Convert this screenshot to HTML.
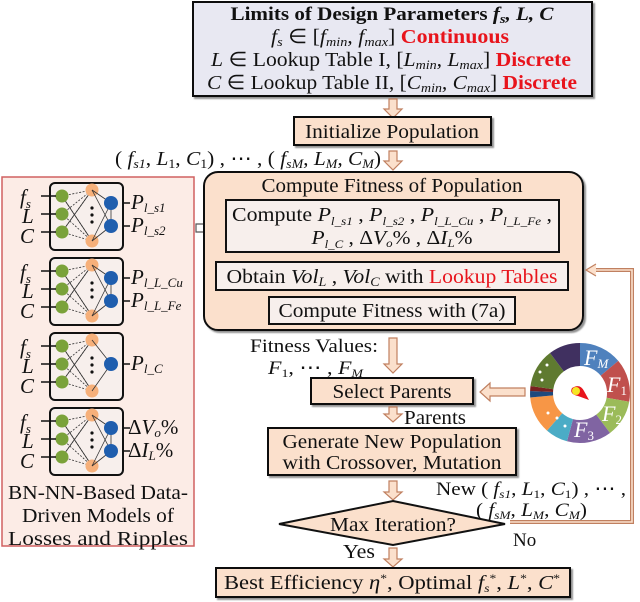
<!DOCTYPE html>
<html><head><meta charset="utf-8"><style>
html,body{margin:0;padding:0;background:#fff}
svg{display:block}
text{font-family:"Liberation Serif",serif;fill:#111}
.i{font-style:italic}
.r{fill:#e8141c;font-weight:bold}
.rr{fill:#e8141c}
</style></head><body>
<svg width="640" height="602" viewBox="0 0 640 602" xmlns="http://www.w3.org/2000/svg">
<defs>
<filter id="sh" x="-5%" y="-5%" width="115%" height="130%"><feDropShadow dx="2" dy="2" stdDeviation="0.8" flood-color="#777" flood-opacity="0.8"/></filter>
<g id="arr"><path d="M-4,0 h8 v10 h5 l-9,9 l-9,-9 h5 z" fill="#fbe0cc" stroke="#c08060" stroke-width="1.2"/></g>
<g id="nnbase">
<rect x="0" y="0" width="73" height="67" rx="5" fill="#f7efec" stroke="#111" stroke-width="2"/>
<g stroke="#333" stroke-width="0.8" stroke-dasharray="2,1.5">
<line x1="12" y1="13" x2="42" y2="7"/><line x1="12" y1="31" x2="42" y2="7"/><line x1="12" y1="49" x2="42" y2="7"/>
<line x1="12" y1="13" x2="42" y2="58"/><line x1="12" y1="31" x2="42" y2="58"/><line x1="12" y1="49" x2="42" y2="58"/>
</g>
<g stroke="#333" stroke-width="0.8">
<line x1="12" y1="13" x2="42" y2="58"/><line x1="12" y1="49" x2="42" y2="7"/>
</g>
<circle cx="12" cy="13" r="6.5" fill="#7aa23a"/><circle cx="12" cy="31" r="6.5" fill="#7aa23a"/><circle cx="12" cy="49" r="6.5" fill="#7aa23a"/>
<circle cx="42" cy="7" r="6.5" fill="#f6b07a"/><circle cx="42" cy="58" r="6.5" fill="#f6b07a"/>
<circle cx="42" cy="25" r="1.6" fill="#111"/><circle cx="42" cy="32" r="1.6" fill="#111"/><circle cx="42" cy="39" r="1.6" fill="#111"/>
<line x1="-9" y1="13" x2="6" y2="13" stroke="#111" stroke-width="1.5"/>
<line x1="-9" y1="31" x2="6" y2="31" stroke="#111" stroke-width="1.5"/>
<line x1="-9" y1="49" x2="6" y2="49" stroke="#111" stroke-width="1.5"/>
</g>
<g id="nn2">
<use href="#nnbase"/>
<g stroke="#333" stroke-width="0.8"><line x1="42" y1="7" x2="61" y2="20"/><line x1="42" y1="7" x2="61" y2="43"/><line x1="42" y1="58" x2="61" y2="20"/><line x1="42" y1="58" x2="61" y2="43"/><line x1="61" y1="20" x2="61" y2="43"/></g>
<circle cx="61" cy="20" r="7" fill="#1f5eae"/><circle cx="61" cy="43" r="7" fill="#1f5eae"/>
<line x1="73" y1="20" x2="80" y2="20" stroke="#111" stroke-width="1.5"/><line x1="73" y1="43" x2="80" y2="43" stroke="#111" stroke-width="1.5"/>
</g>
<g id="nn1">
<use href="#nnbase"/>
<g stroke="#333" stroke-width="0.8"><line x1="42" y1="7" x2="61" y2="31"/><line x1="42" y1="58" x2="61" y2="31"/></g>
<circle cx="61" cy="31" r="7" fill="#1f5eae"/>
<line x1="73" y1="31" x2="80" y2="31" stroke="#111" stroke-width="1.5"/>
</g>
</defs>

<!-- Top box -->
<rect x="193" y="2" width="399" height="94" fill="#e8e8f2" stroke="#111" stroke-width="2" filter="url(#sh)"/>
<text x="392" y="20" text-anchor="middle" font-size="19" font-weight="bold" textLength="323" lengthAdjust="spacingAndGlyphs">Limits of Design Parameters <tspan class="i">f<tspan font-size="13" dy="3">s</tspan><tspan dy="-3">, L, C</tspan></tspan></text>
<text x="390" y="43" text-anchor="middle" font-size="20" textLength="238" lengthAdjust="spacingAndGlyphs"><tspan class="i">f<tspan font-size="13" dy="3">s</tspan></tspan><tspan dy="-3"> ∈ [</tspan><tspan class="i">f<tspan font-size="13" dy="3">min</tspan><tspan dy="-3">, f</tspan><tspan font-size="13" dy="3">max</tspan></tspan><tspan dy="-3">] </tspan><tspan class="r">Continuous</tspan></text>
<text x="391" y="66" text-anchor="middle" font-size="20" textLength="360" lengthAdjust="spacingAndGlyphs"><tspan class="i">L</tspan> ∈ Lookup Table I, [<tspan class="i">L<tspan font-size="13" dy="3">min</tspan><tspan dy="-3">, L</tspan><tspan font-size="13" dy="3">max</tspan></tspan><tspan dy="-3">] </tspan><tspan class="r">Discrete</tspan></text>
<text x="392" y="89" text-anchor="middle" font-size="20" textLength="370" lengthAdjust="spacingAndGlyphs"><tspan class="i">C</tspan> ∈ Lookup Table II, [<tspan class="i">C<tspan font-size="13" dy="3">min</tspan><tspan dy="-3">, C</tspan><tspan font-size="13" dy="3">max</tspan></tspan><tspan dy="-3">] </tspan><tspan class="r">Discrete</tspan></text>

<use href="#arr" x="393" y="99"/>
<rect x="294" y="117" width="197" height="28" fill="#fbe0cc" stroke="#111" stroke-width="2" filter="url(#sh)"/>
<text x="392" y="138" text-anchor="middle" font-size="20" textLength="174" lengthAdjust="spacingAndGlyphs">Initialize Population</text>

<text x="115" y="165" font-size="20" textLength="266" lengthAdjust="spacingAndGlyphs">( <tspan class="i">f<tspan font-size="13" dy="3">s1</tspan></tspan><tspan dy="-3">, </tspan><tspan class="i">L</tspan><tspan font-size="13" dy="3">1</tspan><tspan dy="-3">, </tspan><tspan class="i">C</tspan><tspan font-size="13" dy="3">1</tspan><tspan dy="-3">) , ⋯ , ( </tspan><tspan class="i">f<tspan font-size="13" dy="3">sM</tspan><tspan dy="-3">, L</tspan><tspan font-size="13" dy="3">M</tspan><tspan dy="-3">, C</tspan><tspan font-size="13" dy="3">M</tspan></tspan><tspan dy="-3">)</tspan></text>
<use href="#arr" x="393" y="151"/>

<!-- Left panel -->
<rect x="2" y="177" width="192" height="369" fill="#fcece6" stroke="#d06060" stroke-width="1.5"/>
<use href="#nn2" x="50" y="183"/>
<use href="#nn2" x="50" y="258"/>
<use href="#nn1" x="50" y="333"/>
<use href="#nn2" x="50" y="408"/>
<g font-size="21">
<text x="20" y="204" class="i">f<tspan font-size="13" dy="4">s</tspan></text><text x="22" y="223" class="i">L</text><text x="20" y="243" class="i">C</text>
<text x="20" y="279" class="i">f<tspan font-size="13" dy="4">s</tspan></text><text x="22" y="298" class="i">L</text><text x="20" y="318" class="i">C</text>
<text x="20" y="354" class="i">f<tspan font-size="13" dy="4">s</tspan></text><text x="22" y="373" class="i">L</text><text x="20" y="393" class="i">C</text>
<text x="20" y="429" class="i">f<tspan font-size="13" dy="4">s</tspan></text><text x="22" y="448" class="i">L</text><text x="20" y="468" class="i">C</text>
</g>
<g font-size="21">
<text x="131" y="209" class="i">P<tspan font-size="13" dy="3">l_s1</tspan></text>
<text x="131" y="232" class="i">P<tspan font-size="13" dy="3">l_s2</tspan></text>
<text x="131" y="284" class="i">P<tspan font-size="13" dy="3">l_L_Cu</tspan></text>
<text x="131" y="307" class="i">P<tspan font-size="13" dy="3">l_L_Fe</tspan></text>
<text x="131" y="370" class="i">P<tspan font-size="13" dy="3">l_C</tspan></text>
<text x="128" y="434">Δ<tspan class="i">V</tspan><tspan font-size="13" dy="3" class="i">o</tspan><tspan dy="-3">%</tspan></text>
<text x="128" y="457">Δ<tspan class="i">I</tspan><tspan font-size="13" dy="3" class="i">L</tspan><tspan dy="-3">%</tspan></text>
</g>
<g font-size="20" text-anchor="middle">
<text x="98" y="499" textLength="180" lengthAdjust="spacingAndGlyphs">BN-NN-Based Data-</text>
<text x="98" y="522" textLength="152" lengthAdjust="spacingAndGlyphs">Driven Models of</text>
<text x="98" y="545" textLength="180" lengthAdjust="spacingAndGlyphs">Losses and Ripples</text>
</g>
<path d="M196,224 h8 v-5 l10,9 l-10,9 v-5 h-8 z" fill="#fff" stroke="#555" stroke-width="1.2"/>

<!-- Big box -->
<rect x="204" y="172" width="379" height="158" rx="14" fill="#fbe0cc" stroke="#111" stroke-width="2" filter="url(#sh)"/>
<text x="392" y="192" text-anchor="middle" font-size="20" textLength="261" lengthAdjust="spacingAndGlyphs">Compute Fitness of Population</text>
<rect x="226" y="200" width="333" height="52" fill="#f7efec" stroke="#111" stroke-width="2"/>
<text x="392" y="221" text-anchor="middle" font-size="20" textLength="320" lengthAdjust="spacingAndGlyphs">Compute <tspan class="i">P</tspan><tspan class="i" font-size="12" dy="4">l_s1</tspan><tspan dy="-4"> , </tspan><tspan class="i">P</tspan><tspan class="i" font-size="12" dy="4">l_s2</tspan><tspan dy="-4"> , </tspan><tspan class="i">P</tspan><tspan class="i" font-size="12" dy="4">l_L_Cu</tspan><tspan dy="-4"> , </tspan><tspan class="i">P</tspan><tspan class="i" font-size="12" dy="4">l_L_Fe</tspan><tspan dy="-4"> ,</tspan></text>
<text x="392" y="244" text-anchor="middle" font-size="20" textLength="161" lengthAdjust="spacingAndGlyphs"><tspan class="i">P</tspan><tspan class="i" font-size="12" dy="4">l_C</tspan><tspan dy="-4"> , Δ</tspan><tspan class="i">V</tspan><tspan class="i" font-size="12" dy="3">o</tspan><tspan dy="-3">% , Δ</tspan><tspan class="i">I</tspan><tspan class="i" font-size="12" dy="3">L</tspan><tspan dy="-3">%</tspan></text>
<rect x="216" y="262" width="352" height="28" fill="#f7efec" stroke="#111" stroke-width="2"/>
<text x="392" y="283" text-anchor="middle" font-size="20" textLength="331" lengthAdjust="spacingAndGlyphs">Obtain <tspan class="i">Vol</tspan><tspan class="i" font-size="13" dy="3">L</tspan><tspan dy="-3"> , </tspan><tspan class="i">Vol</tspan><tspan class="i" font-size="13" dy="3">C</tspan><tspan dy="-3"> with </tspan><tspan class="rr">Lookup Tables</tspan></text>
<rect x="269" y="297" width="246" height="27" fill="#f7efec" stroke="#111" stroke-width="2"/>
<text x="392" y="317" text-anchor="middle" font-size="20" textLength="227" lengthAdjust="spacingAndGlyphs">Compute Fitness with (7a)</text>

<!-- fitness -->
<text x="250" y="352" font-size="19" textLength="128" lengthAdjust="spacingAndGlyphs">Fitness Values:</text>
<text x="268" y="374" font-size="19" textLength="95" lengthAdjust="spacingAndGlyphs"><tspan class="i">F</tspan><tspan font-size="12" dy="3">1</tspan><tspan dy="-3">, ⋯ , </tspan><tspan class="i">F</tspan><tspan class="i" font-size="12" dy="3">M</tspan></text>
<path d="M389,338 h8 v26 h5 l-9,9 l-9,-9 h5 z" fill="#fbe0cc" stroke="#c08060" stroke-width="1.2"/>
<rect x="311" y="378" width="162" height="26" fill="#fbe0cc" stroke="#111" stroke-width="2" filter="url(#sh)"/>
<text x="392" y="398" text-anchor="middle" font-size="20" textLength="119" lengthAdjust="spacingAndGlyphs">Select Parents</text>
<path d="M525,388 h-35 v-5 l-10,9 l10,9 v-5 h35 z" fill="#fbe0cc" stroke="#c08060" stroke-width="1.2"/>

<!-- wheel -->
<g transform="translate(580,393)">
<path d="M0,-50 A50,50 0 0 1 38.3,-32.1 L20.7,-17.4 A27,27 0 0 0 0,-27 Z" fill="#4f81bd"/>
<path d="M38.3,-32.1 A50,50 0 0 1 49.2,8.7 L26.6,4.7 A27,27 0 0 0 20.7,-17.4 Z" fill="#c0504d"/>
<path d="M49.2,8.7 A50,50 0 0 1 30,40 L16.2,21.6 A27,27 0 0 0 26.6,4.7 Z" fill="#9bbb59"/>
<path d="M30,40 A50,50 0 0 1 -13,48.3 L-7,26.1 A27,27 0 0 0 16.2,21.6 Z" fill="#8064a2"/>
<path d="M-13,48.3 A50,50 0 0 1 -33,37.6 L-17.8,20.3 A27,27 0 0 0 -7,26.1 Z" fill="#4bacc6"/>
<path d="M-33,37.6 A50,50 0 0 1 -49.8,4.5 L-26.9,2.4 A27,27 0 0 0 -17.8,20.3 Z" fill="#f79646"/>
<path d="M-49.8,4.5 A50,50 0 0 1 -49.9,-2 L-26.95,-1 A27,27 0 0 0 -26.9,2.4 Z" fill="#1f497d"/>
<path d="M-49.9,-2 A50,50 0 0 1 -49.5,-7 L-26.7,-3.8 A27,27 0 0 0 -26.95,-1 Z" fill="#7a2020"/>
<path d="M-49.5,-7 A50,50 0 0 1 -30,-40 L-16.2,-21.6 A27,27 0 0 0 -26.7,-3.8 Z" fill="#5f7a30"/>
<path d="M-30,-40 A50,50 0 0 1 0,-50 L0,-27 A27,27 0 0 0 -16.2,-21.6 Z" fill="#403060"/>
<g fill="#fff"><circle cx="-40" cy="-21" r="1.5"/><circle cx="-33" cy="-28" r="1.5"/><circle cx="-38" cy="-13" r="1.5"/><circle cx="-32" cy="20" r="1.5"/><circle cx="-23" cy="25" r="1.5"/><circle cx="-15" cy="33" r="1.5"/></g>
<g font-family="Liberation Serif" font-style="italic" font-size="22">
<text x="4" y="-28" fill="#fff" style="fill:#fff">F<tspan font-size="13" dy="3">M</tspan></text>
<text x="27" y="-1" style="fill:#fff">F<tspan font-size="13" dy="3" font-style="normal">1</tspan></text>
<text x="22" y="28" style="fill:#fff">F<tspan font-size="13" dy="3" font-style="normal">2</tspan></text>
<text x="-6" y="44" style="fill:#fff">F<tspan font-size="13" dy="3" font-style="normal">3</tspan></text>
</g>
<path d="M-8,-5 Q0,-10 4,-2 L9,7 L-2,3 Q-11,1 -8,-5 Z" fill="#e8141c"/>
<circle cx="-4" cy="-2" r="4" fill="#f5e625"/>
</g>

<!-- parents -->
<path d="M389,407 h8 v7 h5 l-9,8 l-9,-8 h5 z" fill="#fbe0cc" stroke="#c08060" stroke-width="1.2"/>
<text x="404" y="424" font-size="20" textLength="62" lengthAdjust="spacingAndGlyphs">Parents</text>
<rect x="268" y="428" width="248" height="47" fill="#fbe0cc" stroke="#111" stroke-width="2" filter="url(#sh)"/>
<text x="392" y="448" text-anchor="middle" font-size="20" textLength="219" lengthAdjust="spacingAndGlyphs">Generate New Population</text>
<text x="392" y="469" text-anchor="middle" font-size="20" textLength="219" lengthAdjust="spacingAndGlyphs">with Crossover, Mutation</text>
<path d="M389,481 h8 v11 h5 l-9,8 l-9,-8 h5 z" fill="#fbe0cc" stroke="#c08060" stroke-width="1.2"/>

<!-- diamond -->
<polygon points="393,501 505,524 393,545 279,524" fill="#fbe0cc" stroke="#111" stroke-width="2"/>
<text x="393" y="531" text-anchor="middle" font-size="20" textLength="126" lengthAdjust="spacingAndGlyphs">Max Iteration?</text>
<text x="436" y="495" font-size="19" textLength="190" lengthAdjust="spacingAndGlyphs">New ( <tspan class="i">f</tspan><tspan class="i" font-size="12" dy="3">s1</tspan><tspan dy="-3">, </tspan><tspan class="i">L</tspan><tspan font-size="12" dy="3">1</tspan><tspan dy="-3">, </tspan><tspan class="i">C</tspan><tspan font-size="12" dy="3">1</tspan><tspan dy="-3">) , ⋯ ,</tspan></text>
<text x="476" y="516" font-size="19" textLength="111" lengthAdjust="spacingAndGlyphs">( <tspan class="i">f</tspan><tspan class="i" font-size="12" dy="3">sM</tspan><tspan dy="-3">, </tspan><tspan class="i">L</tspan><tspan class="i" font-size="12" dy="3">M</tspan><tspan dy="-3">, </tspan><tspan class="i">C</tspan><tspan class="i" font-size="12" dy="3">M</tspan><tspan dy="-3">)</tspan></text>
<text x="513" y="546" font-size="19">No</text>
<path d="M510,522 H632 V270 H592" fill="none" stroke="#c08060" stroke-width="4"/>
<path d="M510,522 H632 V270 H592" fill="none" stroke="#fbe0cc" stroke-width="1.6"/>
<path d="M596,264 l-10,6 l10,6" fill="#fbe0cc" stroke="#c08060" stroke-width="1.2"/>

<text x="343" y="558" font-size="20" textLength="32" lengthAdjust="spacingAndGlyphs">Yes</text>
<path d="M389,548 h8 v11 h5 l-9,8 l-9,-8 h5 z" fill="#fbe0cc" stroke="#c08060" stroke-width="1.2"/>
<rect x="216" y="568" width="354" height="29" fill="#fbe0cc" stroke="#111" stroke-width="2" filter="url(#sh)"/>
<text x="392" y="589" text-anchor="middle" font-size="20" textLength="336" lengthAdjust="spacingAndGlyphs">Best Efficiency <tspan class="i">η</tspan><tspan font-size="12" dy="-7">*</tspan><tspan dy="7">, Optimal </tspan><tspan class="i">f</tspan><tspan class="i" font-size="12" dy="3">s</tspan><tspan font-size="12" dy="-10">*</tspan><tspan dy="7">, </tspan><tspan class="i">L</tspan><tspan font-size="12" dy="-7">*</tspan><tspan dy="7">, </tspan><tspan class="i">C</tspan><tspan font-size="12" dy="-7">*</tspan></text>
</svg>
</body></html>
